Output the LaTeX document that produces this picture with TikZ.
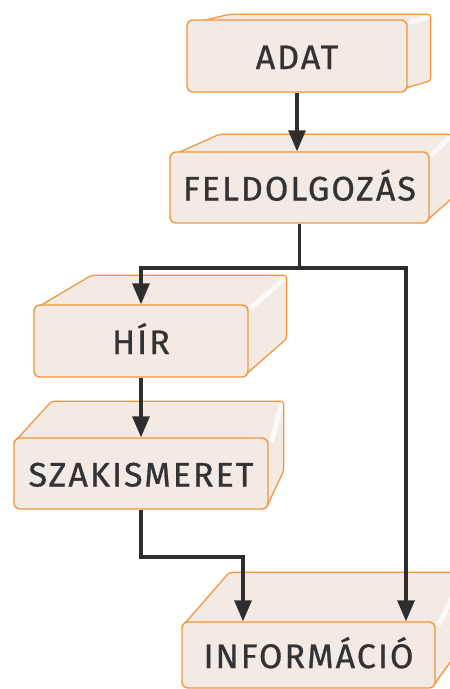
\documentclass[tikz,border=0pt]{standalone}
\usepackage{fontspec}
\setmainfont{Fira Sans}[LetterSpace=6, FakeBold=0.8]
\usetikzlibrary{arrows.meta,backgrounds}
\definecolor{boxfill}{HTML}{F3EAE4}
\definecolor{boxline}{HTML}{F2943A}
\definecolor{txt}{HTML}{333333}
\definecolor{arrowc}{HTML}{2E2E2E}
\tikzset{
  frontbox/.style={draw=boxline, fill=boxfill, line width=1.4pt, rounded corners=6pt,
    text=txt, font=\fontsize{34}{34}\selectfont, text height=26pt, text depth=0pt,
    inner sep=0pt},
  sideface/.style={fill=boxfill},
  sideline/.style={draw=boxline, line width=1.2pt, rounded corners=3pt, line join=round},
  shine/.style={draw=white, line width=5pt, opacity=0.75, line cap=round},
  conn/.style={draw=arrowc, line width=3.2pt},
  arr/.style={conn, -{Triangle[length=21pt,width=17pt]}},
}
% #1 node, #2 dxL, #3 dyT, #4 dxR, #5 dyB
\newcommand{\makeback}[5]{%
  \begin{pgfonlayer}{background}
    \path[sideface] ([yshift=-4pt]#1.north west) -- ([xshift=#2pt,yshift=#3pt]#1.north west)
      -- ([xshift=#4pt,yshift=#3pt]#1.north east) -- ([xshift=#4pt,yshift=#5pt]#1.south east)
      -- ([yshift=4pt]#1.south east) -- cycle;
    \draw[shine] ([xshift=3pt,yshift=-3pt]#1.north east) -- ([xshift=#4pt-2pt,yshift=#3pt-3pt]#1.north east);
    \draw[sideline] ([xshift=1pt,yshift=-5pt]#1.north west) -- ([xshift=#2pt,yshift=#3pt]#1.north west)
      -- ([xshift=#4pt,yshift=#3pt]#1.north east) -- ([xshift=#4pt,yshift=#5pt]#1.south east)
      -- ([xshift=-1pt,yshift=5pt]#1.south east);
  \end{pgfonlayer}}
\begin{document}
\begin{tikzpicture}[x=1pt,y=1pt]
\useasboundingbox (0,0) rectangle (450,-689);
\clip (0,0) rectangle (450,-689);
\node[frontbox, minimum width=220pt, minimum height=72pt] (adat) at (297,-56) {ADAT};
\node[frontbox, minimum width=259pt, minimum height=71pt] (feld) at (299.5,-187.5) {FELDOLGOZÁS};
\node[frontbox, minimum width=214pt, minimum height=72pt] (hir) at (141,-341) {HÍR};
\node[frontbox, minimum width=254pt, minimum height=71pt] (szak) at (141,-473.5) {SZAKISMERET};
\node[frontbox, minimum width=253pt, minimum height=66pt] (info) at (308.5,-655) {INFORMÁCIÓ};
\makeback{adat}{43}{5}{23}{12}
\makeback{feld}{50}{17}{22}{25}
\makeback{hir}{58}{29}{38}{39}
\makeback{szak}{38}{36}{15}{39}
\makeback{info}{48}{49}{30}{48}
\coordinate (j1) at (feld.south |- 0,-268);
\coordinate (j2) at (szak.south |- 0,-557);
\draw[arr] (adat.south) -- (adat.south |- feld.north);
\draw[conn] (feld.south) -- (j1);
\draw[arr] (j1) -| (hir.north);
\draw[arr] (j1) -| ([xshift=97.5pt]info.north);
\draw[arr] (hir.south) -- (szak.north);
\draw[arr] (szak.south) -- (j2) -| ([xshift=-65.5pt]info.north);
\end{tikzpicture}
\end{document}
